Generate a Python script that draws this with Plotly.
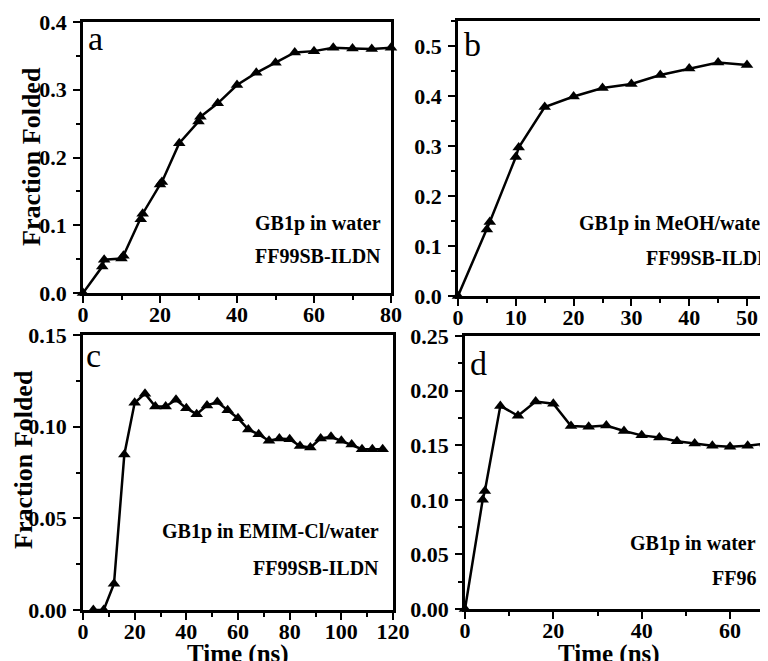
import plotly.graph_objects as go

# ---- data ----
t_a = [0, 5, 5.5, 10, 10.5, 15, 15.5, 20, 20.5, 25, 30, 30.5, 35, 40, 45, 50, 55, 60, 65, 70, 75, 80]
f_a = [0, 0.039, 0.049, 0.051, 0.055, 0.109, 0.117, 0.160, 0.164, 0.221, 0.253, 0.260, 0.280,
       0.307, 0.325, 0.340, 0.355, 0.357, 0.362, 0.361, 0.360, 0.362]

t_b = [0, 5, 5.5, 10, 10.5, 15, 20, 25, 30, 35, 40, 45, 50]
f_b = [0, 0.133, 0.148, 0.278, 0.297, 0.378, 0.399, 0.416, 0.424, 0.442, 0.455, 0.467, 0.462]

t_c = [4, 8, 12, 16, 20, 24, 28, 32, 36, 40, 44, 48, 52, 56, 60, 64, 68, 72, 76, 80,
       84, 88, 92, 96, 100, 104, 108, 112, 116]
f_c = [0, 0, 0.0143, 0.0848, 0.113, 0.118, 0.111, 0.111, 0.1147, 0.110, 0.1068, 0.1116,
       0.1134, 0.109, 0.1046, 0.0985, 0.0958, 0.0923, 0.0936, 0.0932, 0.0894, 0.0886,
       0.0936, 0.0945, 0.0923, 0.0903, 0.0877, 0.0877, 0.0877]

t_d = [0, 4, 4.5, 8, 12, 16, 20, 24, 28, 32, 36, 40, 44, 48, 52, 56, 60, 64, 68]
f_d = [0, 0.100, 0.108, 0.186, 0.177, 0.190, 0.188, 0.1675, 0.167, 0.168, 0.163, 0.159,
       0.157, 0.1537, 0.1516, 0.1495, 0.1485, 0.1495, 0.1516]

panel_labels = ["a", "b", "c", "d"]
notes = [("GB1p in water", "FF99SB-ILDN"),
         ("GB1p in MeOH/water", "FF99SB-ILDN"),
         ("GB1p in EMIM-Cl/water", "FF99SB-ILDN"),
         ("GB1p in water", "FF96")]
y_title = "Fraction Folded"
x_title = "Time (ns)"

# page body has an 8px margin: figure sized so it ends at the window edge
OFF = 8
W, H = 768 - OFF, 661 - OFF
FONT = "Liberation Serif"

def px(x):
    return (x - OFF) / W

def py(y):
    return 1 - (y - OFF) / H

fig = go.Figure()

series = [(t_a, f_a), (t_b, f_b), (t_c, f_c), (t_d, f_d)]
for i, (t, f) in enumerate(series):
    fig.add_trace(go.Scatter(
        x=t, y=f, mode="lines+markers",
        line=dict(color="black", width=2.5),
        marker=dict(symbol="triangle-up", size=11, color="black"),
        xaxis="x" if i == 0 else f"x{i+1}",
        yaxis="y" if i == 0 else f"y{i+1}",
        showlegend=False, cliponaxis=False,
    ))

# panel geometry in window pixels: (left, right, top, bottom)
geo = [(83, 391, 22, 293), (458, 768, 21, 296), (83, 393, 335, 610), (465, 768, 336, 609)]
xr = [[0, 80], [0, (768 - 458) / 5.78], [0, 120], [0, (768 - 465) / 4.417]]
yr = [[0, 0.4], [0, 0.55], [0, 0.15], [0, 0.25]]
xdt = [(20, 10), (10, 5), (20, 10), (20, 10)]
ydt = [(0.1, 0.05), (0.1, 0.05), (0.05, 0.025), (0.05, 0.025)]
yfmt = [".1f", ".1f", ".2f", ".2f"]
ymirror = [True, False, True, False]

tickfont = dict(family=FONT, size=22, color="black", weight="bold")

for i in range(4):
    l, r, t, b = geo[i]
    sx = "" if i == 0 else str(i + 1)
    xa = dict(
        domain=[px(l), min(px(r), 1)], range=xr[i], anchor="y" + sx, automargin=False,
        showline=True, linecolor="black", linewidth=2.5, mirror=True,
        ticks="outside", ticklen=7, tickwidth=2, tickcolor="black",
        dtick=xdt[i][0], tick0=0, ticklabelstandoff=-7,
        minor=dict(dtick=xdt[i][1], ticks="outside", ticklen=4, tickwidth=2, tickcolor="black"),
        showgrid=False, zeroline=False, tickfont=tickfont,
    )
    ya = dict(
        domain=[py(b), py(t)], range=yr[i], anchor="x" + sx, automargin=False,
        showline=True, linecolor="black", linewidth=2.5, mirror=ymirror[i],
        ticks="outside", ticklen=7, tickwidth=2, tickcolor="black",
        dtick=ydt[i][0], tick0=0, tickformat=yfmt[i], ticklabelstandoff=2,
        minor=dict(dtick=ydt[i][1], ticks="outside", ticklen=4, tickwidth=2, tickcolor="black"),
        showgrid=False, zeroline=False, tickfont=tickfont,
    )
    fig.layout["xaxis" + sx] = xa
    fig.layout["yaxis" + sx] = ya

annots = []
# panel labels
lab_pos = [(86, 38), (462, 44), (84, 355), (468, 364)]
for lab, (x, y) in zip(panel_labels, lab_pos):
    annots.append(dict(x=px(x), y=py(y), xref="paper", yref="paper", text=lab,
                       showarrow=False, xanchor="left", yanchor="middle",
                       font=dict(family=FONT, size=34, color="black")))

# note texts
note_pos = [((383, 223), (383, 256), "right"),
            ((577, 223), (644, 258), "left"),
            ((381, 531), (381, 568), "right"),
            ((758, 543), (758, 578), "right")]
for (l1, l2), (p1, p2, anc) in zip(notes, note_pos):
    for txt, (x, y) in ((l1, p1), (l2, p2)):
        annots.append(dict(x=px(x), y=py(y), xref="paper", yref="paper", text=txt,
                           showarrow=False, xanchor=anc, yanchor="middle",
                           font=dict(family=FONT, size=20, color="black", weight="bold")))

# axis titles
for (x, y) in [(31, 157), (23, 460)]:
    annots.append(dict(x=px(x), y=py(y), xref="paper", yref="paper", text=y_title,
                       showarrow=False, textangle=-90, xanchor="center", yanchor="middle",
                       font=dict(family=FONT, size=26, color="black", weight="bold")))
for (x, y) in [(238, 654), (609, 654)]:
    annots.append(dict(x=px(x), y=py(y), xref="paper", yref="paper", text=x_title,
                       showarrow=False, xanchor="center", yanchor="middle",
                       font=dict(family=FONT, size=25, color="black", weight="bold")))

fig.update_layout(
    width=W, height=H, margin=dict(l=0, r=0, t=0, b=0, autoexpand=False),
    paper_bgcolor="white", plot_bgcolor="white",
    annotations=annots,
)

fig.write_html("out.html")
